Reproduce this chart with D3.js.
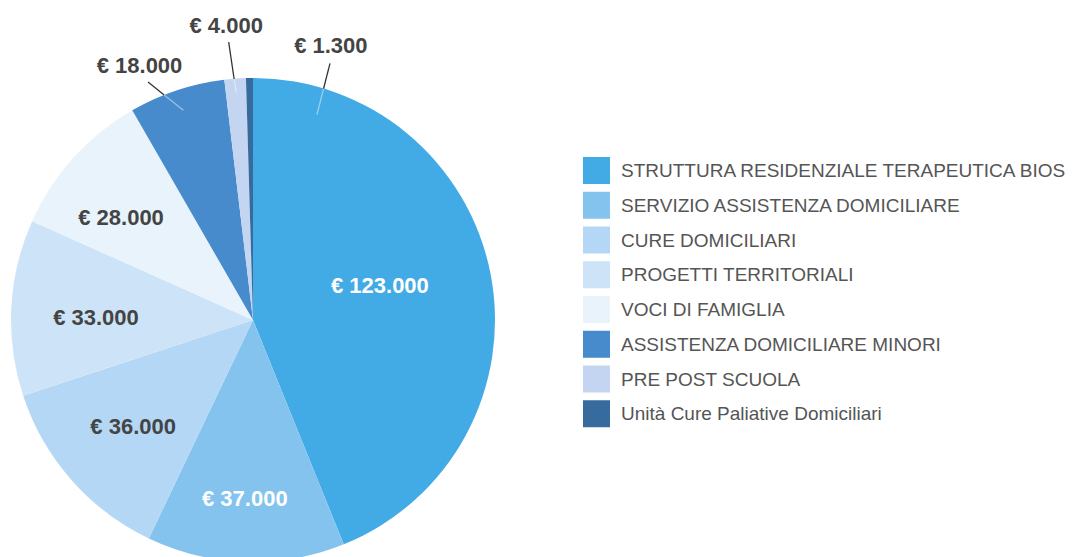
<!DOCTYPE html>
<html><head><meta charset="utf-8">
<script src="https://cdn.jsdelivr.net/npm/d3@7"></script>
<style>body{margin:0;background:#fff;} svg{display:block;}</style>
</head><body>
<svg id="chart" width="1072" height="557"></svg>
<script>
const categories = ["STRUTTURA RESIDENZIALE TERAPEUTICA BIOS","SERVIZIO ASSISTENZA DOMICILIARE","CURE DOMICILIARI","PROGETTI TERRITORIALI","VOCI DI FAMIGLIA","ASSISTENZA DOMICILIARE MINORI","PRE POST SCUOLA","Unità Cure Paliative Domiciliari"];
const values = [123000, 37000, 36000, 33000, 28000, 18000, 4000, 1300];
const colors = ["#42ABE6","#84C3EE","#B3D7F4","#CDE4F8","#E8F3FC","#478BCC","#C3D5F0","#376B9E"];
const labelColors = ["#fff","#fff","#444","#444","#444","#444","#444","#444"];

const svg = d3.select("#chart");
const cx = 253, cy = 320, R = 242;
const FONT = "'Liberation Sans', Arial, sans-serif";
const fmt = v => "€ " + d3.format(",")(v).replace(/,/g, ".");

const pie = d3.pie().sort(null).value(d => d)(values);
const arc = d3.arc().innerRadius(0).outerRadius(R);
const g = svg.append("g").attr("transform", `translate(${cx},${cy})`);
g.selectAll("path").data(pie).join("path").attr("d", arc).attr("fill", (d,i) => colors[i]);

const polar = (a, r) => [r*Math.sin(a), -r*Math.cos(a)];
const deg = Math.PI/180;
// inside label placement (layout): angle offset from slice middle (deg), radius fraction
const inLayout = [[-4.4, 0.544], [0.9, 0.736], [-0.1, 0.661], [-1.8, 0.649], [-4.1, 0.692]];
pie.forEach((d,i) => {
  if (i >= inLayout.length) return;
  const mid = (d.startAngle + d.endAngle)/2;
  const [x,y] = polar(mid + inLayout[i][0]*deg, R*inLayout[i][1]);
  g.append("text").attr("x", x).attr("y", y).attr("dy", "0.35em")
    .attr("text-anchor","middle").attr("font-family",FONT)
    .attr("font-weight","bold").attr("font-size", 22).attr("fill", labelColors[i]).text(fmt(values[i]));
});

// outside labels with leader lines (layout tweaks for small slices)
const outside = [
  {i:5, labAng:336, labR:279, lineAng0:336.2, lineR0:260, lineAng1:null, lineR1:221},
  {i:6, labAng:354.8, labR:296, lineAng0:355, lineR0:279, lineAng1:null, lineR1:228},
  {i:7, labAng:15.8, labR:286, lineAng0:16.7, lineR0:268, lineAng1:17.3, lineR1:215}
];
outside.forEach(o => {
  const d = pie[o.i];
  const mid = (d.startAngle + d.endAngle)/2;
  const a1 = o.lineAng1 == null ? mid : o.lineAng1*deg;
  const p0 = polar(o.lineAng0*deg, o.lineR0);
  const p1 = polar(a1, o.lineR1);
  let t = 0;
  for (let k=0;k<=200;k++){ const tt=k/200; const x=p0[0]+(p1[0]-p0[0])*tt, y=p0[1]+(p1[1]-p0[1])*tt; if (Math.hypot(x,y) <= R){t=tt;break;} }
  const pm = [p0[0]+(p1[0]-p0[0])*t, p0[1]+(p1[1]-p0[1])*t];
  g.append("line").attr("x1",p0[0]).attr("y1",p0[1]).attr("x2",pm[0]).attr("y2",pm[1])
    .attr("stroke","#333").attr("stroke-width",1.3);
  g.append("line").attr("x1",pm[0]).attr("y1",pm[1]).attr("x2",p1[0]).attr("y2",p1[1])
    .attr("stroke","#fff").attr("stroke-opacity",0.45).attr("stroke-width",1.3);
  const [x,y] = polar(o.labAng*deg, o.labR);
  g.append("text").attr("x", x).attr("y", y).attr("dy","0.35em")
    .attr("text-anchor","middle").attr("font-family",FONT)
    .attr("font-weight","bold").attr("font-size", 22).attr("fill", "#444").text(fmt(values[o.i]));
});

// legend
const legY = d3.scaleBand().domain(d3.range(categories.length)).range([157, 157 + 34.75*categories.length]);
const leg = svg.append("g");
categories.forEach((c,i) => {
  const y = legY(i);
  leg.append("rect").attr("x",583).attr("y",y).attr("width",27).attr("height",27).attr("fill",colors[i]);
  leg.append("text").attr("x",621).attr("y",y+13.5).attr("dy","0.35em")
    .attr("font-family",FONT).attr("font-size",19).attr("fill","#555").text(c);
});
</script>
</body></html>
